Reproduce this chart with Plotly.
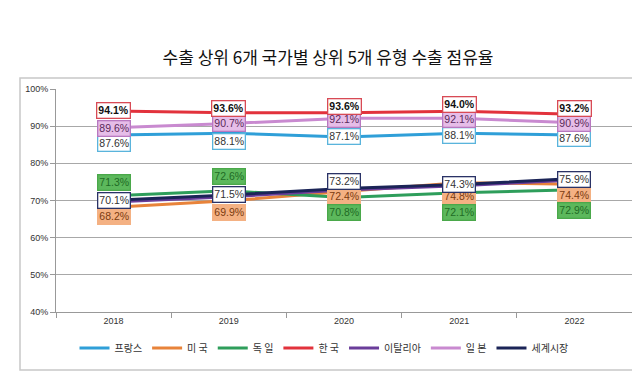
import plotly.graph_objects as go

years = ["2018", "2019", "2020", "2021", "2022"]
france = [87.6, 88.1, 87.1, 88.1, 87.6]
usa = [68.2, 69.9, 72.4, 74.8, 74.4]
germany = [71.3, 72.6, 70.8, 72.1, 72.9]
korea = [94.1, 93.6, 93.6, 94.0, 93.2]
italy = [69.6, 71.0, 72.8, 74.0, 75.5]
japan = [89.6, 90.7, 92.1, 92.1, 90.9]
world = [70.1, 71.5, 73.2, 74.3, 75.9]

series = [
    ("프랑스", france, "#2f9fd8"),
    ("미 국", usa, "#e8833a"),
    ("독 일", germany, "#2e9e5b"),
    ("한 국", korea, "#e2323c"),
    ("이탈리아", italy, "#6a3d9a"),
    ("일 본", japan, "#c98ad0"),
    ("세계시장", world, "#1b2457"),
]

FONT = "Noto Sans CJK KR"
LFONT = "Liberation Sans"
xs = list(range(len(years)))
fig = go.Figure()
for name, vals, col in series:
    fig.add_trace(go.Scatter(x=xs, y=vals, name=name, mode="lines",
                             line=dict(color=col, width=3)))

# label styles: (values, text colour, bg, border, bold, pixel shifts)
label_specs = [
    (france, "#333333", "white", "#5ab4dc", False, [-8, -8, 0, -2, -3]),
    (usa, "#7a3b10", "#f4b183", "#f4b183", False, [-9, -12, -5, -14, -11]),
    (germany, "#1f6b25", "#5cb85c", "#4aa84a", False, [13, 14, -15, -20, -21]),
    (japan, "#5a2a5a", "#e6bde8", "#b878c0", False, [-1, 0, -1, -1, -1]),
    (world, "#333333", "white", "#2a3266", False, [0, 0, 7, 0, -1]),
    (korea, "#111111", "white", "#d84a55", True, [0, 4, 6, 7, 6]),
]
for vals, tc, bg, bc, bold, shifts in label_specs:
    for i, v, s in zip(xs, vals, shifts):
        txt = f"{v:.1f}%"
        if bold:
            txt = f"<b>{txt}</b>"
        fig.add_annotation(x=i, y=v, xref="x", yref="y", text=txt, showarrow=False,
                           yshift=s, font=dict(family=LFONT, size=10.5, color=tc),
                           bgcolor=bg, bordercolor=bc, borderwidth=1.3, borderpad=1)

# outer frame
L, R, T, B = 48, 624, 81, 304
W, H = R - L, B - T
fig.add_shape(type="rect", xref="paper", yref="paper",
              x0=(12 - L) / W, x1=(626 - L) / W, y0=(B - 362) / H, y1=(B - 70) / H,
              line=dict(color="#c8c8c8", width=1.5), fillcolor="rgba(0,0,0,0)", layer="below")

fig.update_layout(
    width=640, height=375,
    margin=dict(l=L, r=640 - R, t=T, b=375 - B),
    paper_bgcolor="white", plot_bgcolor="white",
    title=dict(text="수출 상위 6개 국가별 상위 5개 유형 수출 점유율", x=0.5, xref="container",
               xanchor="center", y=1 - 50 / 375, yref="container", yanchor="middle",
               font=dict(family=FONT, size=17, color="#111111")),
    showlegend=True,
    legend=dict(orientation="h", x=(316 - L) / W, xanchor="center", y=(B - 340) / H,
                yanchor="middle", font=dict(family=FONT, size=10, color="#333333"),
                itemwidth=30, tracegroupgap=0, bgcolor="rgba(0,0,0,0)"),
    xaxis=dict(range=[-0.5, 4.5], tickvals=xs, ticktext=years, ticks="",
               showline=True, linecolor="#999999", showgrid=False, zeroline=False,
               minor=dict(tickvals=[i - 0.5 for i in range(len(years) + 1)], ticks="outside",
                          ticklen=5, tickcolor="#999999", showgrid=False),
               tickfont=dict(family=LFONT, size=9, color="#333333")),
    yaxis=dict(range=[40, 100], dtick=10, ticksuffix="%", ticks="outside", ticklen=5,
               tickcolor="#999999", showline=True, linecolor="#999999",
               gridcolor="#a8a8a8", gridwidth=1, zeroline=False,
               tickfont=dict(family=LFONT, size=9, color="#333333")),
)

fig.write_html("out.html")
